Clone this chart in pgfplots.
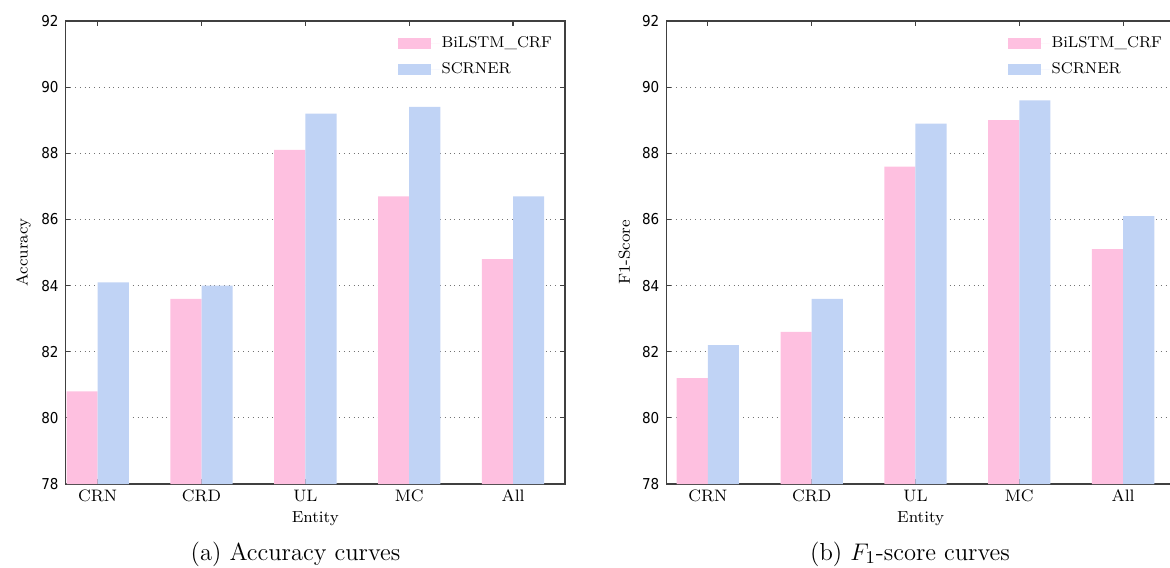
\documentclass[border=0pt]{standalone}
\usepackage{fontspec}
\usepackage{pgfplots}
\pgfplotsset{compat=1.18}
\newfontfamily\tickfont{DejaVu Sans Condensed}
\definecolor{pinkbar}{RGB}{254,192,224}
\definecolor{bluebar}{RGB}{192,211,245}
\definecolor{spine}{RGB}{64,64,64}

\pgfplotsset{
  entitybars/.style={
    scale only axis,
    anchor=south west,
    height=231.5pt,
    ymin=78, ymax=92,
    ytick={78,80,...,92},
    xtick={0,1,2,3,4},
    xticklabels={CRN,CRD,UL,MC,All},
    ymajorgrids,
    grid style={dotted, line width=0.6pt, color=black!55},
    axis line style={spine, line width=0.65pt},
    tick style={spine, line width=0.6pt},
    major tick length=2.5pt,
    tick align=inside,
    tick pos=both,
    /pgf/number format/assume math mode=true,
    yticklabel style={font=\tickfont\fontsize{7.5}{8}\selectfont},
    xticklabel style={font=\fontsize{8.3}{9}\selectfont, yshift=0.5pt},
    label style={font=\fontsize{8}{9}\selectfont},
    xlabel={Entity},
    xlabel style={at={(axis description cs:0.5,0)}, anchor=center, yshift=-17.2pt},
    ylabel style={at={(axis description cs:0,0.5)}, anchor=center, yshift=21pt},
    bar width=0.3,
    legend cell align=left,
    legend style={draw=none, fill=none, anchor=north east, at={(1,1)},
      xshift=-5.3pt, yshift=-6.5pt, font=\fontsize{7.8}{9}\selectfont,
      nodes={inner sep=1pt, text height=5.5pt, text depth=1.5pt},
      row sep=4pt, inner sep=0pt},
    legend image code/.code={
      \fill[#1] (0pt,-2.6pt) rectangle (16.5pt,2.6pt);
      \path (0pt,0pt) -- (21pt,0pt);},
  },
  pinkstyle/.style={ybar, fill=pinkbar, draw=none, bar shift=-0.15},
  bluestyle/.style={ybar, fill=bluebar, draw=none, bar shift=0.15},
}

\begin{document}
\begin{tikzpicture}
\useasboundingbox (0,0) rectangle (585pt,283.5pt);

% (a) accuracy
\begin{axis}[entitybars, at={(32.75pt,41.5pt)}, width=249.75pt,
  xmin=-0.31, xmax=4.5, ylabel={Accuracy}]
\addplot[pinkstyle] coordinates {(0,80.8) (1,83.6) (2,88.1) (3,86.7) (4,84.8)};
\addplot[bluestyle] coordinates {(0,84.1) (1,84.0) (2,89.2) (3,89.4) (4,86.7)};
\legend{BiLSTM\_CRF, SCRNER}
\end{axis}

% (b) F1-score
\begin{axis}[entitybars, at={(333.15pt,41.5pt)}, width=254.35pt,
  xmin=-0.4, xmax=4.5, ylabel={F1-Score}]
\addplot[pinkstyle] coordinates {(0,81.2) (1,82.6) (2,87.6) (3,89.0) (4,85.1)};
\addplot[bluestyle] coordinates {(0,82.2) (1,83.6) (2,88.9) (3,89.6) (4,86.1)};
\legend{BiLSTM\_CRF, SCRNER}
\end{axis}

\node[font=\fontsize{12.3}{14}\selectfont] at (147.75pt,6.5pt) {(a) Accuracy curves};
\node[font=\fontsize{12.3}{14}\selectfont] at (455pt,6.5pt) {(b) $F_1$-score curves};
\end{tikzpicture}
\end{document}
